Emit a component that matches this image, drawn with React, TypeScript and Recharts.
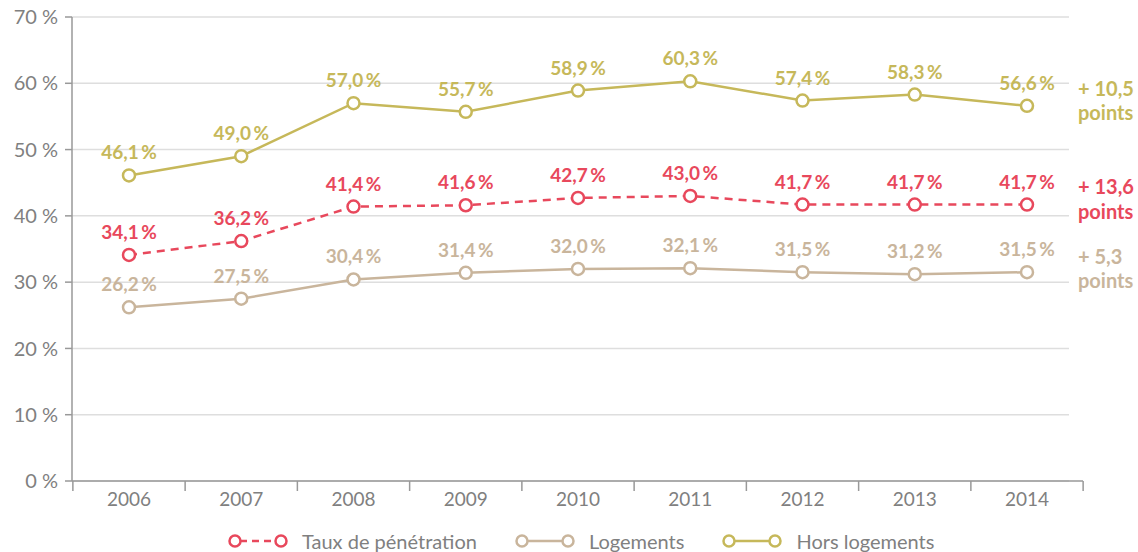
import React from 'react';
import { LineChart, Line, XAxis, YAxis, CartesianGrid, LabelList } from 'recharts';

const years = ['2006', '2007', '2008', '2009', '2010', '2011', '2012', '2013', '2014'];
const tauxPenetration = [34.1, 36.2, 41.4, 41.6, 42.7, 43.0, 41.7, 41.7, 41.7];
const logements = [26.2, 27.5, 30.4, 31.4, 32.0, 32.1, 31.5, 31.2, 31.5];
const horsLogements = [46.1, 49.0, 57.0, 55.7, 58.9, 60.3, 57.4, 58.3, 56.6];
const yTicks = [0, 10, 20, 30, 40, 50, 60, 70];
const gainTaux = '+ 13,6';
const gainLogements = '+ 5,3';
const gainHors = '+ 10,5';

const data = years.map((year, i) => ({
  year,
  taux: tauxPenetration[i],
  logements: logements[i],
  hors: horsLogements[i],
}));

const RED = '#e8485c';
const BEIGE = '#c9b59c';
const OLIVE = '#c6b85a';
const GREY = '#808080';
const FONT = 'Lato, "Noto Sans", sans-serif';

const W = 1138;
const H = 552;
const PLOT_W = 1011;
const PAD_L = 57;
const PAD_R = 56;
const BAND = (PLOT_W - PAD_L - PAD_R) / (years.length - 1);

const fmt = (v: number) => v.toFixed(1).replace('.', ',') + '\u2009%';

const makeLabel = (color: string, gain: string, lastDy: [number, number]) => (props: any) => {
  const { x, y, value, index } = props;
  return (
    <g>
      <text x={x} y={y - 16} textAnchor="middle" fontFamily={FONT} fontWeight={700} fontSize={19} fill={color}>
        {fmt(value)}
      </text>
      {index === years.length - 1 && (
        <text fontFamily={FONT} fontWeight={700} fontSize={20} fill={color}>
          <tspan x={x + 51} y={y + lastDy[0]}>{gain}</tspan>
          <tspan x={x + 51} y={y + lastDy[1]}>points</tspan>
        </text>
      )}
    </g>
  );
};

const XTick = (props: any) => {
  const { x, y, payload, index } = props;
  return (
    <g>
      <line x1={x - BAND / 2} x2={x - BAND / 2} y1={y} y2={y + 10} stroke="#999" strokeWidth={1.5} />
      {index === years.length - 1 && (
        <line x1={x + BAND / 2} x2={x + BAND / 2} y1={y} y2={y + 10} stroke="#999" strokeWidth={1.5} />
      )}
      <text x={x} y={y + 25} textAnchor="middle" fontFamily={FONT} fontSize={19} fill={GREY}>
        {payload.value}
      </text>
    </g>
  );
};

const GridLine = (props: any) => {
  const { x1, x2, y1, y2 } = props;
  return <line x1={x1} x2={x2 - 14} y1={y1} y2={y2} stroke="#dedede" strokeWidth={1.5} />;
};

const Marker = ({ color, dashed }: { color: string; dashed?: boolean }) => (
  <svg width={60} height={16} style={{ marginRight: 14 }}>
    <line x1={12} x2={48} y1={8} y2={8} stroke={color} strokeWidth={2.5} strokeDasharray={dashed ? '7 5' : undefined} />
    <circle cx={7} cy={8} r={5.5} fill="#fff" stroke={color} strokeWidth={2.5} />
    <circle cx={53} cy={8} r={5.5} fill="#fff" stroke={color} strokeWidth={2.5} />
  </svg>
);

const legendItems = [
  { name: 'Taux de pénétration', color: RED, dashed: true },
  { name: 'Logements', color: BEIGE },
  { name: 'Hors logements', color: OLIVE },
];

const App: React.FC = () => {
  return (
    <div style={{ position: 'absolute', left: 0, top: 0, width: W, height: H, background: '#fff' }}>
      <LineChart width={W} height={H} data={data} margin={{ top: 17, right: W - 72 - PLOT_W, bottom: 31, left: 0 }}>
        <CartesianGrid horizontal={GridLine} vertical={false} />
        <XAxis
          dataKey="year"
          height={40}
          padding={{ left: PAD_L, right: PAD_R }}
          axisLine={{ stroke: '#999', strokeWidth: 1.5 }}
          tickLine={false}
          tickSize={0}
          tickMargin={0}
          interval={0}
          tick={<XTick />}
        />
        <YAxis
          width={72}
          domain={[0, 70]}
          ticks={yTicks}
          axisLine={{ stroke: '#999', strokeWidth: 1.5 }}
          tickLine={{ stroke: '#999', strokeWidth: 1.5 }}
          tickSize={7}
          tickMargin={7}
          tickFormatter={(v: number) => `${v} %`}
          tick={{ fontFamily: FONT, fontSize: 20, fill: GREY }}
        />
        <Line
          dataKey="hors"
          stroke={OLIVE}
          strokeWidth={2.5}
          dot={{ r: 6, fill: '#fff', stroke: OLIVE, strokeWidth: 2.5 }}
          isAnimationActive={false}
        >
          <LabelList dataKey="hors" content={makeLabel(OLIVE, gainHors, [-10, 14])} />
        </Line>
        <Line
          dataKey="taux"
          stroke={RED}
          strokeWidth={2.5}
          strokeDasharray="8 6"
          dot={{ r: 6, fill: '#fff', stroke: RED, strokeWidth: 2.5, strokeDasharray: '' }}
          isAnimationActive={false}
        >
          <LabelList dataKey="taux" content={makeLabel(RED, gainTaux, [-11, 14])} />
        </Line>
        <Line
          dataKey="logements"
          stroke={BEIGE}
          strokeWidth={2.5}
          dot={{ r: 6, fill: '#fff', stroke: BEIGE, strokeWidth: 2.5 }}
          isAnimationActive={false}
        >
          <LabelList dataKey="logements" content={makeLabel(BEIGE, gainLogements, [-8, 16])} />
        </Line>
      </LineChart>
      <div
        style={{
          position: 'absolute',
          top: 529,
          left: 228,
          display: 'flex',
          fontFamily: FONT,
          fontSize: 20,
          color: GREY,
        }}
      >
        {legendItems.map((it) => (
          <div key={it.name} style={{ display: 'flex', alignItems: 'center', marginRight: 38 }}>
            <Marker color={it.color} dashed={it.dashed} />
            <span>{it.name}</span>
          </div>
        ))}
      </div>
    </div>
  );
};

export default App;
